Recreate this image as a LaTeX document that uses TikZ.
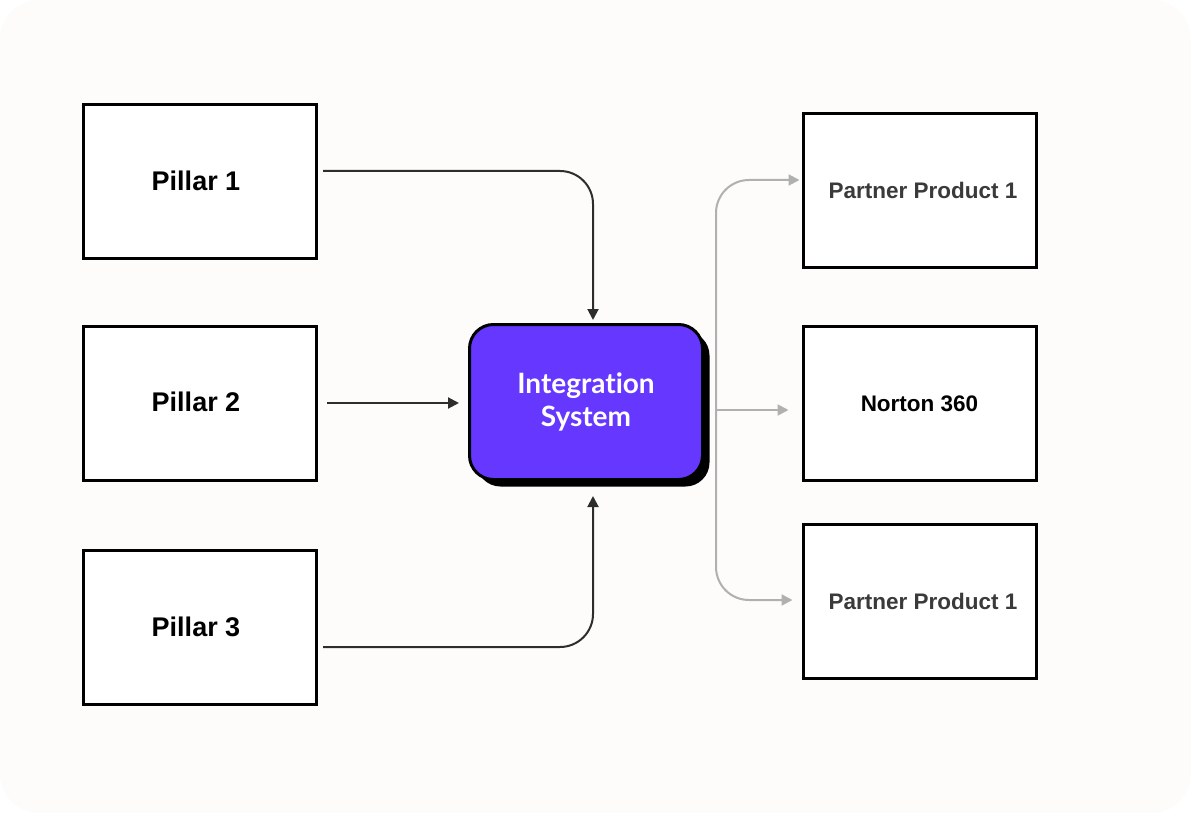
\documentclass[tikz,border=0pt]{standalone}
\usepackage{fontspec}
\setmainfont{Liberation Sans}
\newfontfamily\hubfont[Ligatures=NoCommon]{Lato}
\usetikzlibrary{arrows.meta,calc,shadows}
\definecolor{bgc}{RGB}{253,252,250}
\definecolor{purp}{RGB}{102,56,255}
\definecolor{grayarr}{RGB}{176,176,176}
\definecolor{darkarr}{RGB}{45,45,45}
\definecolor{ptext}{RGB}{58,58,58}
\begin{document}
\begin{tikzpicture}[x=1pt,y=-1pt,
  pillarbox/.style={draw=black,line width=3pt,fill=white,minimum width=233pt,minimum height=154pt,inner sep=0pt,font=\fontsize{27}{30}\selectfont\bfseries},
  prodbox/.style={draw=black,line width=3pt,fill=white,minimum width=233pt,minimum height=154pt,inner sep=0pt,font=\fontsize{22.5}{26}\selectfont\bfseries},
  hubbox/.style={draw=black,line width=3pt,fill=purp,rounded corners=24pt,minimum width=233pt,minimum height=155pt,inner sep=0pt,text=white,align=center,font=\hubfont\fontsize{28}{33}\selectfont\bfseries,
    drop shadow={shadow xshift=7pt,shadow yshift=-7pt,fill=black,opacity=1}},
  darkline/.style={draw=darkarr,line width=2pt,-{Triangle[length=11pt,width=11pt]},rounded corners=33pt},
  grayline/.style={draw=grayarr,line width=2pt,-{Triangle[length=11pt,width=11pt]},rounded corners=33pt}]
\useasboundingbox (0,0) rectangle (1191,813);
\fill[white] (0,0) rectangle (1191,813);
\fill[bgc,rounded corners=40pt] (0,0) rectangle (1191,813);

\node[pillarbox] (p1) at (200,181.5) {\raisebox{2pt}{Pillar 1}\hspace*{8pt}};
\node[pillarbox] (p2) at (200,403) {\raisebox{2pt}{Pillar 2}\hspace*{8pt}};
\node[pillarbox] (p3) at (200,627.5) {\raisebox{2pt}{Pillar 3}\hspace*{8pt}};

\node[hubbox] (is) at (586,402) {Integrat\kern0pt ion\\System};

\node[prodbox,text=ptext] (pp1) at (919.5,190.5) {\hspace*{7pt}Partner Product 1};
\node[prodbox] (nt) at (919.5,403.5) {Norton 360};
\node[prodbox,text=ptext] (pp2) at (919.5,601.5) {\hspace*{7pt}Partner Product 1};

\draw[darkline] ($(p1.east)+(5,-10.5)$) -| ($(is.north)+(7,-3)$);
\draw[darkline] ($(p2.east)+(9,0)$) -- ($(is.west |- p2.east)+(-9,0)$);
\draw[darkline] ($(p3.east)+(5,19.5)$) -| ($(is.south)+(7,15)$);

\coordinate (tr) at (716,410);
\draw[grayline] (tr) |- ($(pp1.west)+(-2,-10.5)$);
\draw[grayline] (tr) -- ($(nt.west)+(-13,6.5)$);
\draw[grayline] (tr) |- ($(pp2.west)+(-9,-1.5)$);
\end{tikzpicture}
\end{document}
